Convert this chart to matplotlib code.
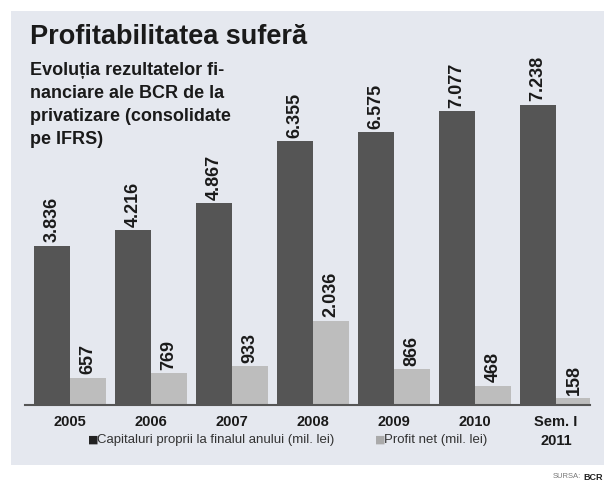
import matplotlib
matplotlib.use("Agg")
import matplotlib.pyplot as plt
from matplotlib.patches import Rectangle

# date
categorii = ["2005", "2006", "2007", "2008", "2009", "2010", "Sem. I\n2011"]
capitaluri = [3836, 4216, 4867, 6355, 6575, 7077, 7238]
profit = [657, 769, 933, 2036, 866, 468, 158]
etichete_cap = ["3.836", "4.216", "4.867", "6.355", "6.575", "7.077", "7.238"]
etichete_profit = ["657", "769", "933", "2.036", "866", "468", "158"]

FONT = ["Liberation Sans", "DejaVu Sans"]
DARK = "#555555"
LIGHT = "#bdbdbd"
BG = "#e5e8ef"

W, H = 604, 484
fig = plt.figure(figsize=(W / 100, H / 100), dpi=100)
fig.patch.set_facecolor("white")

# fundal panou
fig.patches.append(Rectangle((11 / W, 1 - 465 / H), (W - 11) / W, (465 - 11) / H,
                             transform=fig.transFigure, facecolor=BG,
                             edgecolor="none", zorder=-5))

ax = fig.add_axes([25 / W, 1 - 405 / H, (590 - 25) / W, (405 - 20) / H])
ax.set_zorder(2)
ax.set_facecolor("none")
ax.set_xlim(-0.556, 6.42)
ax.set_ylim(0, 385 / 0.0415)

bw = 36 / 81
x = range(len(categorii))
xd = [i - bw / 2 for i in x]
xl = [i + bw / 2 for i in x]
ax.bar(xd, capitaluri, width=bw, color=DARK, zorder=2)
ax.bar(xl, profit, width=bw, color=LIGHT, zorder=2)

for xi, v, t in zip(xd, capitaluri, etichete_cap):
    ax.text(xi, v + 80, t, rotation=90, ha="center", va="bottom",
            fontsize=13, fontweight="bold", family=FONT, color="#1a1a1a")
for xi, v, t in zip(xl, profit, etichete_profit):
    ax.text(xi, v + 80, t, rotation=90, ha="center", va="bottom",
            fontsize=13, fontweight="bold", family=FONT, color="#1a1a1a")

for s in ["top", "right", "left"]:
    ax.spines[s].set_visible(False)
ax.spines["bottom"].set_color("#555555")
ax.spines["bottom"].set_linewidth(1.5)
ax.set_yticks([])
ax.set_xticks(list(x))
ax.set_xticklabels(categorii, fontsize=10.5, fontweight="bold", family=FONT,
                   color="#1a1a1a", linespacing=1.45)
ax.tick_params(axis="x", length=0, pad=7)

# titlu si subtitlu
fig.text(30 / W, 1 - 44 / H, "Profitabilitatea suferă", fontsize=19.5,
         fontweight="bold", family=FONT, color="#1a1a1a", va="baseline")
fig.text(30 / W, 1 - 62 / H,
         "Evoluția rezultatelor fi-\nnanciare ale BCR de la\nprivatizare (consolidate\npe IFRS)",
         fontsize=13, fontweight="bold", family=FONT, color="#1a1a1a",
         va="top", linespacing=1.45)

# legenda
fig.text(88 / W, 1 - 440 / H, "■", fontsize=8, color="#222222", va="center",
         family="DejaVu Sans")
fig.text(97 / W, 1 - 440 / H, "Capitaluri proprii la finalul anului (mil. lei)",
         fontsize=9.5, family=FONT, color="#333333", va="center")
fig.text(375 / W, 1 - 440 / H, "■", fontsize=8, color="#aaaaaa", va="center",
         family="DejaVu Sans")
fig.text(384 / W, 1 - 440 / H, "Profit net (mil. lei)",
         fontsize=9.5, family=FONT, color="#333333", va="center")

fig.text(581 / W, 1 - 477 / H, "SURSA:", fontsize=5.5, family=FONT,
         color="#777777", va="center", ha="right")
fig.text(583 / W, 1 - 477 / H, "BCR", fontsize=6.5, family=FONT,
         fontweight="bold", color="#222222", va="center", ha="left")

fig.savefig("out.png", dpi=100, facecolor=fig.get_facecolor())
